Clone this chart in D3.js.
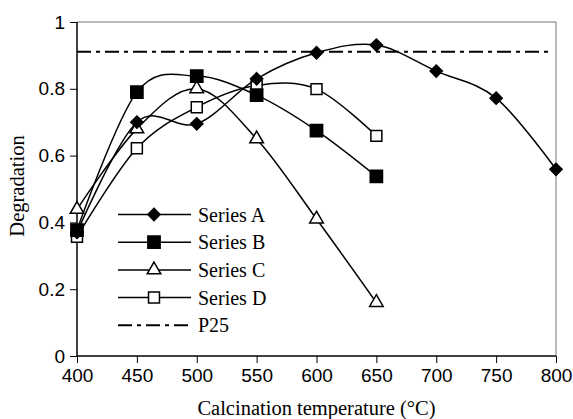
<!DOCTYPE html>
<html>
<head>
<meta charset="utf-8">
<title>Degradation vs calcination temperature</title>
<script src="https://cdn.jsdelivr.net/npm/d3@7/dist/d3.min.js"></script>
<style>
body { margin: 0; background: #fff; }
.tick text { font-family: 'Liberation Sans', Arial, sans-serif; font-size: 19px; fill: #000; }
.title { font-family: 'Liberation Serif', 'Times New Roman', serif; font-size: 20.5px; fill: #000; }
.legend text { font-family: 'Liberation Serif', 'Times New Roman', serif; font-size: 20px; fill: #000; }
</style>
</head>
<body>
<div id="chart"></div>
<script>
// temperatures (x) and the four series
const temps = [400, 450, 500, 550, 600, 650, 700, 750, 800];
const seriesA = [0.37, 0.70, 0.695, 0.83, 0.908, 0.931, 0.853, 0.772, 0.559];
const seriesB = [0.377, 0.79, 0.838, 0.781, 0.675, 0.538];
const seriesC = [0.439, 0.68, 0.80, 0.65, 0.41, 0.16];
const seriesD = [0.357, 0.622, 0.745, 0.81, 0.799, 0.659];
const p25 = 0.911;
const names = ["Series A", "Series B", "Series C", "Series D", "P25"];
const yTicks = [0, 0.2, 0.4, 0.6, 0.8, 1];
const xTicks = [400, 450, 500, 550, 600, 650, 700, 750, 800];

const W = 573, H = 419;
const m = {top: 22, right: 17, bottom: 63, left: 77};

const svg = d3.select("#chart").append("svg")
    .attr("width", W).attr("height", H);

const x = d3.scaleLinear([400, 800], [m.left, W - m.right]);
const y = d3.scaleLinear([0, 1], [H - m.bottom, m.top]);

// frame: top and right are light
svg.append("path")
    .attr("d", `M${x(400)},${y(1)}H${x(800)}V${y(0)}`)
    .attr("fill", "none").attr("stroke", "#777").attr("stroke-width", 1);

const yAxis = svg.append("g")
    .attr("transform", `translate(${m.left},0)`)
    .call(d3.axisLeft(y).tickValues(yTicks).tickSize(7).tickPadding(5)
        .tickFormat(d => d === 0 || d === 1 ? d3.format("d")(d) : d3.format(".1f")(d)));
const xAxis = svg.append("g")
    .attr("transform", `translate(0,${H - m.bottom})`)
    .call(d3.axisBottom(x).tickValues(xTicks).tickSize(7).tickPadding(6));
[yAxis, xAxis].forEach(a => {
  a.select(".domain").attr("stroke", "#000").attr("stroke-width", 1.5);
  a.selectAll(".tick line").attr("stroke", "#000");
});
yAxis.select(".domain").attr("d", `M0,${y(0)}V${y(1)}`);
xAxis.select(".domain").attr("d", `M${x(400)},0H${x(800)}`);

// P25 reference line
svg.append("line")
    .attr("x1", x(400)).attr("x2", x(795))
    .attr("y1", y(p25)).attr("y2", y(p25))
    .attr("stroke", "#000").attr("stroke-width", 2)
    .attr("stroke-dasharray", "14,5,4,5");

const line = d3.line()
    .x(d => x(d[0])).y(d => y(d[1]))
    .curve(d3.curveCardinal.tension(0));

const sym = {
  diamond: d3.symbol().type(d3.symbolDiamond2).size(95),
  square: d3.symbol().type(d3.symbolSquare).size(150),
  triangle: d3.symbol().type(d3.symbolTriangle).size(80),
  osquare: d3.symbol().type(d3.symbolSquare).size(120)
};

const series = [
  {vals: seriesD, shape: "osquare", fill: "#fff"},
  {vals: seriesC, shape: "triangle", fill: "#fff"},
  {vals: seriesB, shape: "square", fill: "#000"},
  {vals: seriesA, shape: "diamond", fill: "#000"}
];

series.forEach(s => {
  const pts = s.vals.map((v, i) => [temps[i], v]);
  svg.append("path").datum(pts)
      .attr("d", line)
      .attr("fill", "none").attr("stroke", "#000").attr("stroke-width", 1.5);
  svg.append("g").selectAll("path").data(pts).join("path")
      .attr("d", sym[s.shape])
      .attr("transform", d => `translate(${x(d[0])},${y(d[1])})`)
      .attr("fill", s.fill).attr("stroke", "#000").attr("stroke-width", 1.5);
});

// legend
const legend = svg.append("g").attr("class", "legend");
const legItems = [
  {shape: "diamond", fill: "#000"},
  {shape: "square", fill: "#000"},
  {shape: "triangle", fill: "#fff"},
  {shape: "osquare", fill: "#fff"},
  {shape: null}
];
legItems.forEach((it, i) => {
  const ly = 214.5 + i * 27.7;
  const g = legend.append("g").attr("transform", `translate(0,${ly})`);
  g.append("line").attr("x1", 118).attr("x2", 191)
      .attr("stroke", "#000")
      .attr("stroke-width", it.shape ? 1.5 : 2)
      .attr("stroke-dasharray", it.shape ? null : "14,5,4,5");
  if (it.shape) {
    g.append("path").attr("d", sym[it.shape])
        .attr("transform", "translate(154,0)")
        .attr("fill", it.fill).attr("stroke", "#000").attr("stroke-width", 1.5);
  }
  g.append("text").attr("x", 198).attr("dy", "0.35em").text(names[i]);
});

// axis titles
svg.append("text").attr("class", "title")
    .attr("x", (x(400) + x(800)) / 2).attr("y", 415)
    .attr("text-anchor", "middle")
    .text("Calcination temperature (°C)");
svg.append("text").attr("class", "title")
    .attr("transform", `translate(24,${(y(0) + y(1)) / 2 - 3}) rotate(-90)`)
    .attr("text-anchor", "middle")
    .text("Degradation");
</script>
</body>
</html>
